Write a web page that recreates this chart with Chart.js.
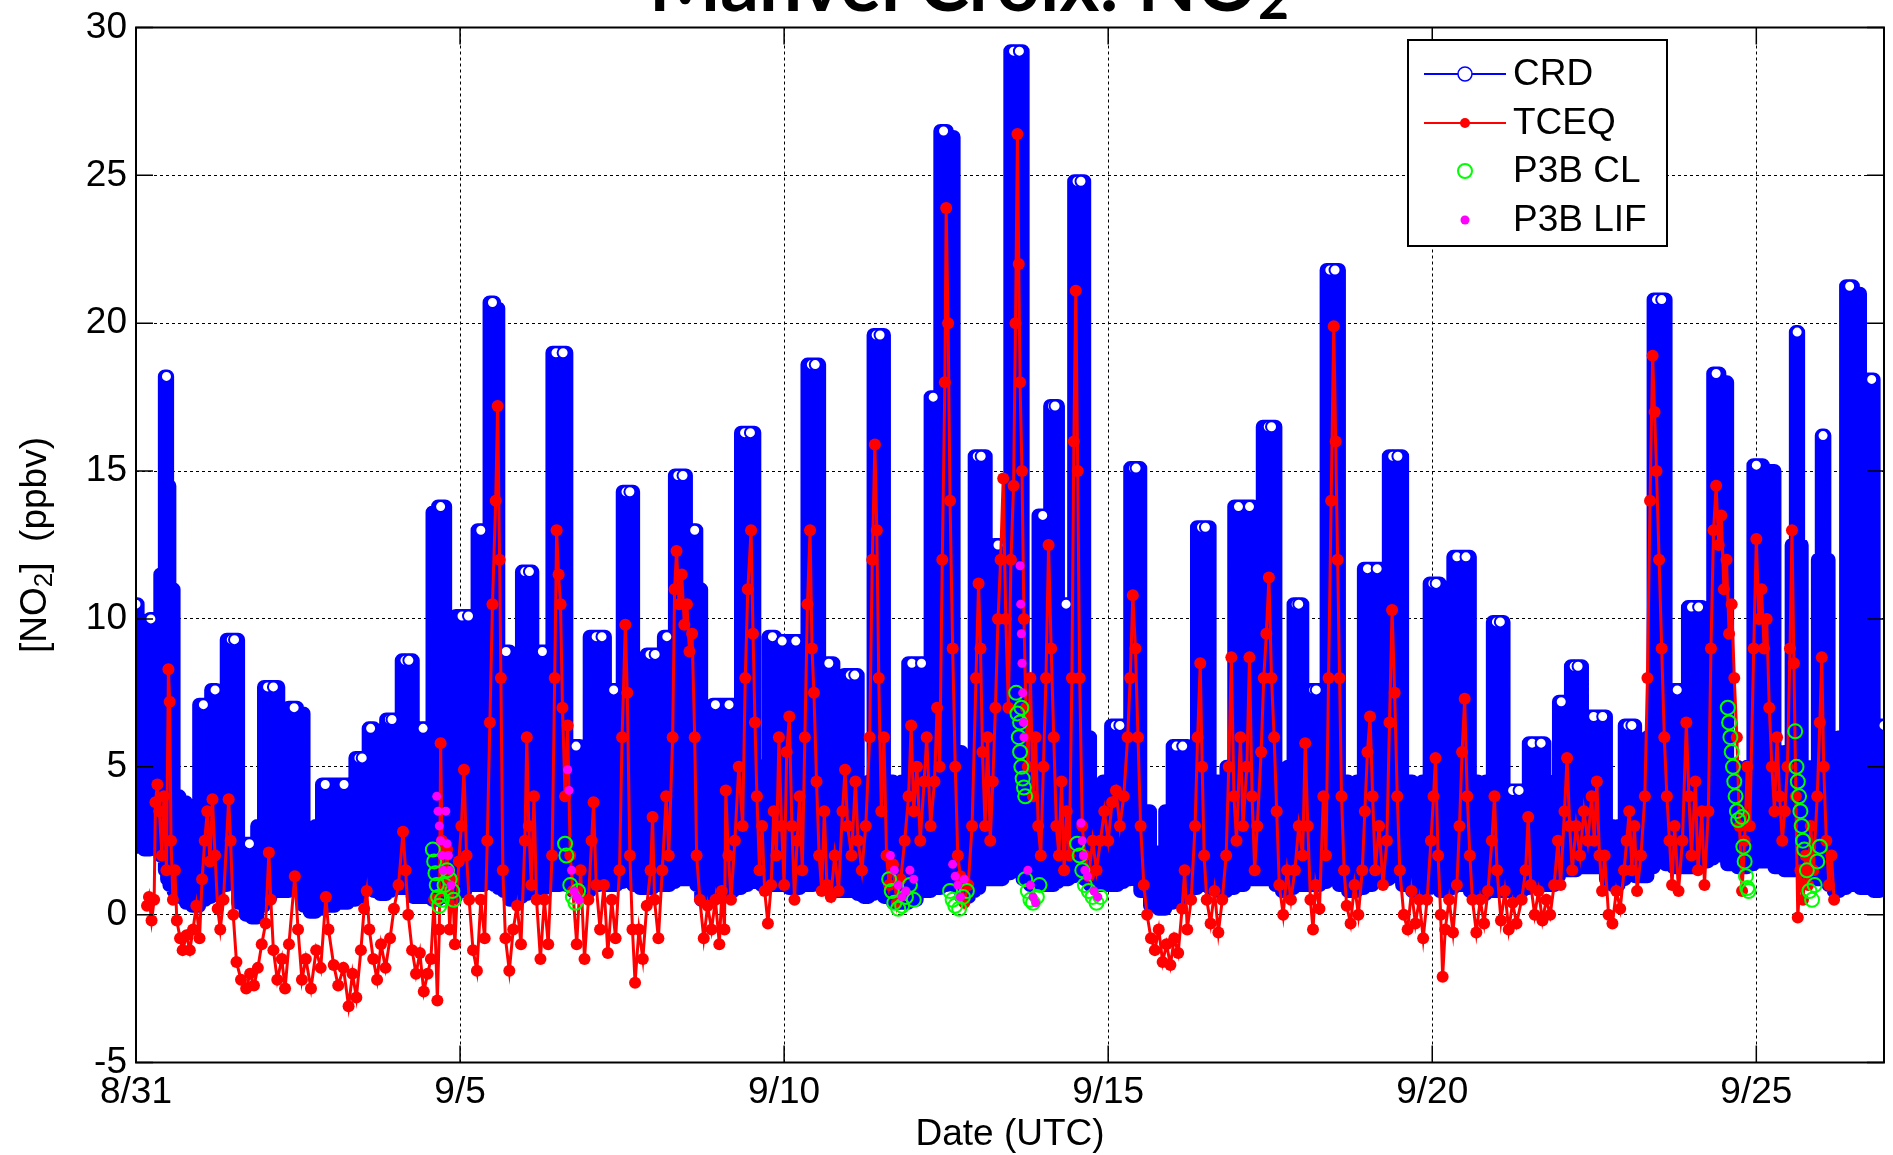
<!DOCTYPE html>
<html><head><meta charset="utf-8">
<script src="https://cdn.jsdelivr.net/npm/chart.js"></script>
<style>html,body{margin:0;padding:0;background:#fff;overflow:hidden}canvas{display:block}</style>
</head><body>
<canvas id="c" width="1893" height="1155"></canvas>
<script>
// ---------- DATA (x = days since 8/31 00:00 UTC, y = NO2 ppbv) ----------
const X_TICKS = [0, 5, 10, 15, 20, 25];
const X_TICK_LABELS = ['8/31', '9/5', '9/10', '9/15', '9/20', '9/25'];
const Y_TICKS = [-5, 0, 5, 10, 15, 20, 25, 30];
const SERIES_LABELS = ['CRD', 'TCEQ', 'P3B CL', 'P3B LIF'];
const TITLE_MAIN = 'Manvel Croix: NO';
const TITLE_SUB = '2';
const X_TITLE = 'Date (UTC)';

// CRD envelope (centres of the stacked circles): [day, upper, lower]
const CRD_WEEK1 = [
 [0.00,10.5,2.4],[0.05,9.6,2.3],[0.20,9.8,2.2],[0.23,10.0,2.5],[0.33,7.0,2.4],[0.42,11.5,2.0],[0.47,18.2,1.5],
 [0.49,14.5,1.2],[0.54,11.0,1.0],[0.62,4.0,0.8],[0.72,3.8,0.6],[0.82,3.6,0.4],[0.91,2.6,0.3],[1.04,7.1,0.5],
 [1.10,5.0,0.6],[1.22,7.6,0.8],[1.26,7.4,1.0],[1.33,3.5,1.0],[1.47,9.3,1.2],[1.52,9.3,1.3],[1.63,2.4,0.4],
 [1.75,2.4,0.0],[1.82,2.2,-0.1],[1.92,3.0,0.3],[2.03,7.7,0.6],[2.12,7.7,0.8],[2.27,3.5,0.8],[2.44,7.0,1.0],
 [2.53,6.8,1.0],[2.64,2.2,0.3],[2.72,2.1,0.1],[2.82,3.0,0.2],[2.92,4.4,0.3],[3.21,4.4,0.4],[3.33,3.5,0.5],
 [3.44,5.3,0.6],[3.49,5.3,0.8],[3.56,4.5,0.9],[3.62,6.3,0.9],[3.72,4.1,0.8],[3.81,4.0,0.7],[3.91,6.6,0.8],
 [3.95,6.6,0.9],[4.05,4.5,0.9],[4.15,8.6,0.9],[4.21,8.6,1.0],[4.33,4.0,0.6],[4.43,6.3,0.6],[4.53,4.5,0.6],
 [4.62,13.6,0.5],[4.70,13.8,0.6],[4.84,4.0,0.6],[5.03,10.1,0.8],[5.13,10.1,1.0],[5.22,5.5,1.0],[5.32,13.0,1.0],
 [5.41,6.0,1.1],[5.50,20.7,1.1],[5.55,20.5,1.0],[5.63,6.5,0.9],[5.71,8.9,0.8],[5.82,4.2,0.5],[5.91,4.5,0.6],
 [6.00,11.6,0.7],[6.07,11.6,0.9],[6.16,5.5,0.9],[6.27,8.9,0.9],[6.37,5.5,1.0],[6.48,19.0,1.0],[6.59,19.0,1.2],
 [6.69,5.0,1.0],[6.79,5.7,0.8],[6.90,4.5,0.8],[7.10,9.4,1.0],[7.19,9.4,1.2],[7.28,5.0,1.0],[7.37,7.6,1.0],
 [7.46,5.0,1.1],[7.56,14.3,1.2],[7.62,14.3,1.3],[7.72,4.5,1.0],[7.83,4.5,0.9],[7.93,8.8,0.9],[8.01,8.8,1.0],
 [8.10,5.0,1.0],[8.19,9.4,1.0],[8.27,6.5,1.1],[8.36,14.85,1.2],[8.44,14.85,1.2],[8.53,9.0,1.2],[8.62,13.0,1.2],
 [8.67,11.0,1.0],[8.77,3.0,0.5],[8.86,4.0,0.6],[8.94,7.1,0.6]
];
const CRD_WEEK2 = [
 [9.15,7.1,0.8],[9.28,4.5,0.9],[9.39,16.3,1.0],[9.48,16.3,1.2],[9.60,5.0,1.1],[9.70,4.5,1.0],[9.82,9.4,1.0],
 [9.90,7.0,1.0],[9.97,9.25,1.0],[10.18,9.25,0.9],[10.30,5.5,1.0],[10.42,18.6,1.0],[10.48,18.6,1.2],[10.60,6.0,1.1],
 [10.69,8.5,1.0],[10.83,4.9,0.8],[11.02,8.1,0.8],[11.09,8.1,0.8],[11.18,4.0,0.7],[11.27,3.1,0.6],[11.34,4.5,0.7],
 [11.42,19.6,0.8],[11.48,19.6,0.8],[11.60,4.5,0.6],[11.76,4.0,0.4],[11.86,4.5,0.4],[11.97,8.5,0.5],[12.12,8.5,0.8],
 [12.22,5.0,0.8],[12.30,17.5,0.9],[12.36,10.0,0.9],[12.46,26.5,1.0],[12.56,26.3,1.2],[12.67,5.5,1.0],[12.80,4.0,0.6],
 [12.90,5.0,0.8],[12.98,15.5,0.9],[13.04,15.5,1.2],[13.18,8.0,1.2],[13.30,12.5,1.2],[13.44,8.0,1.4],[13.54,29.2,1.5],
 [13.63,29.2,1.5],[13.73,6.0,1.2],[13.86,5.5,1.0],[13.99,13.5,1.0],[14.07,10.0,1.0],[14.14,17.2,1.0],[14.18,17.2,1.1],
 [14.27,7.0,1.2],[14.35,10.5,1.2],[14.43,6.5,1.3],[14.52,24.8,1.5],[14.58,24.8,1.5],[14.68,6.0,1.2],[14.76,4.0,1.0],
 [14.86,4.2,1.0],[14.98,4.5,1.0],[15.11,6.4,1.0],[15.18,6.4,1.1],[15.29,4.5,1.2],[15.39,15.1,1.3],[15.43,15.1,1.2],
 [15.56,3.5,0.8],[15.73,2.1,0.3],[15.82,2.1,0.2],[15.94,3.5,0.4],[16.05,5.7,0.5],[16.15,5.7,0.8],[16.30,4.5,0.9],
 [16.44,13.1,1.0],[16.50,13.1,1.0],[16.63,4.5,0.9],[16.77,4.0,0.8],[16.88,5.0,0.9],[17.01,13.8,1.0],[17.18,13.8,1.2],
 [17.30,7.0,1.2],[17.47,16.5,1.2],[17.52,16.5,1.2],[17.64,4.5,1.0],[17.72,4.0,0.8],[17.82,5.0,0.9],[17.90,10.5,1.0],
 [17.94,10.5,1.0]
];
const CRD_WEEK3 = [
 [18.05,5.0,1.0],[18.17,7.6,1.0],[18.21,7.6,1.0],[18.32,6.0,1.1],[18.42,21.8,1.2],[18.50,21.8,1.2],[18.62,4.5,1.0],
 [18.78,4.0,0.8],[18.89,4.5,0.9],[19.00,11.7,1.0],[19.15,11.7,1.2],[19.27,7.0,1.2],[19.39,15.5,1.3],[19.47,15.5,1.3],
 [19.60,4.5,1.0],[19.78,4.0,0.8],[19.91,4.5,0.9],[20.01,11.2,1.0],[20.06,11.2,1.0],[20.17,4.0,0.8],[20.27,4.5,0.9],
 [20.38,12.1,1.0],[20.52,12.1,1.0],[20.64,4.5,0.8],[20.77,4.0,0.7],[20.88,4.5,0.8],[20.99,9.9,0.8],[21.05,9.9,0.8],
 [21.15,3.5,0.8],[21.24,4.2,0.8],[21.34,4.2,0.8],[21.44,4.0,0.9],[21.54,5.8,1.0],[21.68,5.8,1.0],[21.78,3.5,1.0],
 [21.85,3.5,1.0],[21.92,4.5,1.3],[21.99,7.2,1.5],[22.09,5.5,1.5],[22.19,8.4,1.5],[22.25,8.4,1.6],[22.37,5.0,1.6],
 [22.49,6.7,1.6],[22.63,6.7,1.6],[22.73,3.0,1.2],[22.83,2.0,1.0],[22.92,3.0,1.2],[23.02,6.4,1.5],[23.08,6.4,1.5],
 [23.18,3.5,1.3],[23.27,3.5,1.3],[23.37,6.0,1.6],[23.46,20.8,2.0],[23.54,20.8,2.0],[23.66,6.5,1.7],[23.78,7.6,1.6],
 [23.89,5.5,1.6],[24.00,10.4,1.6],[24.11,10.4,1.8],[24.22,5.5,1.8],[24.29,6.0,1.9],[24.38,18.3,2.0],[24.48,18.0,2.0],
 [24.62,5.0,1.7],[24.80,4.5,1.6],[24.91,5.0,1.7],[25.00,15.2,1.8],[25.20,15.0,1.8],[25.36,5.0,1.6],[25.50,5.5,1.5],
 [25.59,12.5,1.5],[25.63,19.7,1.5],[25.66,12.5,1.5],[25.74,5.0,1.4],[25.83,4.0,1.2],[25.91,5.0,1.2],[25.99,12.0,1.2],
 [26.03,16.2,1.2],[26.07,12.0,1.2],[26.16,5.0,1.0],[26.23,4.0,0.8],[26.33,6.0,0.9],[26.44,21.25,1.0],[26.54,21.0,1.0],
 [26.66,10.0,0.9],[26.78,18.1,0.9],[26.84,6.0,0.8],[26.97,6.4,0.9]
];

// TCEQ series: [day, ppbv]
const TCEQ_WEEK1 = [
 [0.17,0.3],[0.20,0.6],[0.24,-0.2],[0.28,0.5],[0.30,3.8],[0.33,4.4],[0.36,3.5],[0.40,2.0],[0.43,4.0],[0.47,1.5],
 [0.50,8.3],[0.52,7.2],[0.54,2.5],[0.57,0.5],[0.60,1.5],[0.63,-0.2],[0.68,-0.8],[0.72,-1.2],[0.78,-0.7],[0.83,-1.2],
 [0.88,-0.5],[0.93,0.3],[0.98,-0.8],[1.02,1.2],[1.06,2.5],[1.10,3.5],[1.14,1.8],[1.18,3.9],[1.22,2.0],[1.26,0.2],
 [1.30,-0.5],[1.35,0.5],[1.43,3.9],[1.46,2.5],[1.50,0.0],[1.55,-1.6],[1.62,-2.2],[1.70,-2.5],[1.76,-2.0],[1.82,-2.4],
 [1.88,-1.8],[1.94,-1.0],[2.00,-0.3],[2.05,2.1],[2.08,0.5],[2.12,-1.2],[2.18,-2.2],[2.25,-1.5],[2.30,-2.5],[2.36,-1.0],
 [2.45,1.3],[2.50,-0.5],[2.56,-2.2],[2.62,-1.5],[2.70,-2.5],[2.78,-1.2],[2.85,-1.8],[2.93,0.6],[2.97,-0.5],[3.05,-1.7],
 [3.12,-2.4],[3.20,-1.8],[3.28,-3.1],[3.34,-2.0],[3.40,-2.8],[3.47,-1.2],[3.52,0.2],[3.56,0.8],[3.60,-0.5],[3.66,-1.5],
 [3.72,-2.2],[3.78,-1.0],[3.85,-1.8],[3.92,-0.8],[3.98,0.2],[4.05,1.0],[4.12,2.8],[4.16,1.5],[4.20,0.0],[4.26,-1.2],
 [4.32,-2.0],[4.38,-1.3],[4.44,-2.6],[4.50,-2.0],[4.55,-1.5],[4.60,0.5],[4.65,-2.9],[4.68,-0.5],[4.70,5.8],[4.72,2.5],
 [4.76,0.8],[4.80,2.2],[4.84,-0.5],[4.88,1.2],[4.92,-1.0],[4.98,1.8],[5.02,3.0],[5.06,4.9],[5.10,2.0],[5.14,0.5],
 [5.20,-1.2],[5.26,-1.9],[5.32,0.5],[5.38,-0.8],[5.42,2.5],[5.46,6.5],[5.50,10.5],[5.55,14.0],[5.58,17.2],[5.61,12.0],
 [5.63,8.0],[5.66,1.5],[5.70,-0.8],[5.76,-1.9],[5.82,-0.5],[5.88,0.3],[5.94,-1.0],[6.00,2.5],[6.03,6.0],[6.06,3.0],
 [6.10,1.0],[6.14,4.0],[6.18,0.5],[6.24,-1.5],[6.30,0.5],[6.36,-1.0],[6.42,2.0],[6.46,8.0],[6.49,13.0],[6.52,11.5],
 [6.55,10.5],[6.58,7.0],[6.62,4.0],[6.66,6.4],[6.70,2.0],[6.74,0.8],[6.80,-1.0],[6.86,1.5],[6.92,-1.5],[6.98,0.5],
 [7.03,2.5],[7.06,3.8],[7.10,1.0],[7.16,-0.5],[7.22,1.0],[7.28,-1.3],[7.34,0.5],[7.40,-0.8],[7.46,1.5],[7.50,6.0],
 [7.55,9.8],[7.58,7.5],[7.62,2.0],[7.66,-0.5],[7.70,-2.3],[7.76,-0.5],[7.82,-1.5],[7.88,0.3],[7.94,1.5],[7.97,3.3],
 [8.00,0.5],[8.06,-0.8],[8.12,1.5],[8.18,4.0],[8.22,2.0],[8.28,6.0],[8.31,11.0],[8.34,12.3],[8.38,10.5],[8.42,11.5],
 [8.46,9.8],[8.50,10.5],[8.54,8.9],[8.58,9.5],[8.62,6.0],[8.65,2.0],[8.70,0.5],[8.76,-0.8],[8.82,0.3],[8.88,-0.5],
 [8.94,0.5],[9.00,-1.0]
];
const TCEQ_WEEK2 = [
 [9.04,0.8],[9.08,-0.5],[9.10,4.2],[9.14,2.0],[9.18,0.5],[9.24,2.5],[9.30,5.0],[9.36,3.0],[9.40,8.0],[9.44,11.0],
 [9.49,13.0],[9.52,9.5],[9.55,6.5],[9.58,4.0],[9.62,1.5],[9.66,3.0],[9.70,0.8],[9.75,-0.3],[9.80,1.0],[9.84,3.5],
 [9.88,2.0],[9.92,6.0],[9.96,3.0],[10.00,1.0],[10.04,5.5],[10.08,6.7],[10.12,3.0],[10.16,0.5],[10.20,2.5],[10.24,4.0],
 [10.28,1.5],[10.32,6.0],[10.36,10.5],[10.40,13.0],[10.43,9.0],[10.46,7.5],[10.50,4.5],[10.54,2.0],[10.58,0.8],[10.62,3.5],
 [10.66,1.0],[10.72,0.6],[10.78,2.0],[10.84,0.8],[10.90,3.5],[10.94,4.9],[10.98,3.0],[11.04,2.0],[11.10,4.5],[11.14,2.5],
 [11.20,1.5],[11.26,3.0],[11.32,6.0],[11.36,12.0],[11.40,15.9],[11.43,13.0],[11.46,8.0],[11.50,3.5],[11.54,6.0],[11.58,2.0],
 [11.62,1.0],[11.68,1.7],[11.74,0.4],[11.80,1.2],[11.86,2.5],[11.92,4.0],[11.96,6.4],[12.00,3.5],[12.05,5.0],[12.10,2.5],
 [12.16,4.5],[12.20,6.0],[12.26,3.0],[12.32,4.5],[12.36,7.0],[12.40,5.0],[12.44,12.0],[12.48,18.0],[12.50,23.9],[12.53,20.0],
 [12.56,14.0],[12.60,9.0],[12.64,5.0],[12.68,2.0],[12.72,1.3],[12.78,0.4],[12.84,1.0],[12.90,3.0],[12.96,8.0],[13.00,11.2],
 [13.03,9.0],[13.06,5.5],[13.10,3.0],[13.14,6.0],[13.18,2.5],[13.22,4.5],[13.26,7.0],[13.30,10.0],[13.34,12.0],[13.38,14.75],
 [13.42,10.0],[13.46,7.0],[13.50,12.0],[13.54,14.5],[13.57,20.0],[13.60,26.4],[13.62,22.0],[13.64,18.0],[13.67,15.0],[13.70,10.0],
 [13.73,7.0],[13.76,5.0],[13.80,8.0],[13.84,4.0],[13.88,6.0],[13.92,3.0],[13.96,2.0],[14.00,5.0],[14.04,8.0],[14.08,12.5],
 [14.12,9.0],[14.16,6.0],[14.20,3.0],[14.24,2.0],[14.28,4.5],[14.32,1.5],[14.36,3.5],[14.40,2.0],[14.44,8.0],[14.47,16.0],
 [14.50,21.1],[14.53,15.0],[14.56,8.0],[14.60,3.0],[14.64,2.0],[14.70,1.3],[14.76,2.5],[14.82,1.5],[14.88,2.5],[14.94,3.5],
 [15.00,2.5],[15.06,3.8],[15.12,4.2],[15.18,3.0],[15.24,4.0],[15.30,6.0],[15.34,8.0],[15.38,10.8],[15.42,9.0],[15.46,6.0],
 [15.50,3.0],[15.55,1.0],[15.60,0.0],[15.66,-0.8],[15.72,-1.2],[15.78,-0.5],[15.84,-1.6],[15.90,-1.0],[15.96,-1.7],[16.02,-0.8],
 [16.08,-1.3],[16.14,0.2],[16.18,1.5],[16.22,-0.5],[16.28,0.5],[16.34,3.0],[16.38,6.0],[16.42,8.5],[16.45,5.0],[16.48,2.0],
 [16.52,0.5],[16.58,-0.3],[16.64,0.8],[16.70,-0.6],[16.76,0.5],[16.82,2.0],[16.86,5.0],[16.90,8.7],[16.94,4.0],[16.98,2.5],
 [17.04,6.0],[17.08,3.0],[17.14,5.0],[17.18,8.7],[17.22,4.0],[17.26,1.5],[17.30,3.0],[17.36,5.5],[17.40,8.0],[17.44,9.5],
 [17.48,11.4],[17.52,8.0],[17.56,6.0],[17.60,3.5],[17.64,1.0],[17.70,0.0],[17.76,1.5],[17.82,0.5],[17.88,1.5],[17.94,3.0],
 [18.00,2.0]
];
const TCEQ_WEEK3 = [
 [18.04,5.8],[18.08,3.0],[18.12,0.5],[18.16,-0.5],[18.20,1.0],[18.26,0.2],[18.32,4.0],[18.36,2.0],[18.40,8.0],[18.44,14.0],
 [18.48,19.9],[18.51,16.0],[18.54,12.0],[18.57,8.0],[18.60,4.0],[18.64,1.5],[18.68,0.3],[18.74,-0.3],[18.80,1.0],[18.86,0.0],
 [18.92,1.5],[18.96,3.5],[19.00,5.5],[19.04,6.7],[19.08,4.0],[19.12,1.5],[19.18,3.0],[19.24,1.0],[19.30,2.5],[19.34,6.5],
 [19.38,10.3],[19.42,7.5],[19.46,4.0],[19.50,1.5],[19.56,0.0],[19.62,-0.5],[19.68,0.8],[19.74,-0.3],[19.80,0.5],[19.86,-0.8],
 [19.92,0.5],[19.98,2.5],[20.02,4.0],[20.05,5.3],[20.09,2.0],[20.13,0.0],[20.16,-2.1],[20.20,-0.5],[20.26,0.5],[20.32,-0.6],
 [20.38,1.0],[20.42,3.0],[20.46,5.5],[20.50,7.3],[20.54,4.0],[20.58,2.0],[20.62,0.5],[20.68,-0.6],[20.74,0.5],[20.80,-0.3],
 [20.86,0.8],[20.92,2.5],[20.96,4.0],[21.00,1.5],[21.06,-0.2],[21.12,0.8],[21.18,-0.5],[21.24,0.4],[21.30,-0.3],[21.38,0.5],
 [21.44,1.5],[21.48,3.3],[21.52,1.0],[21.58,0.0],[21.64,0.8],[21.70,-0.2],[21.76,0.5],[21.82,0.0],[21.88,1.0],[21.94,2.5],
 [21.98,1.0],[22.04,3.5],[22.08,5.3],[22.12,3.0],[22.16,1.5],[22.22,3.0],[22.28,2.0],[22.34,3.5],[22.40,2.5],[22.46,4.0],
 [22.50,2.5],[22.54,4.5],[22.58,2.0],[22.62,0.8],[22.66,2.0],[22.72,0.0],[22.78,-0.3],[22.84,0.8],[22.90,0.2],[22.96,1.5],
 [23.00,2.5],[23.04,3.5],[23.08,1.5],[23.12,3.0],[23.16,0.8],[23.22,2.0],[23.28,4.0],[23.32,8.0],[23.36,14.0],[23.40,18.9],
 [23.43,17.0],[23.46,15.0],[23.50,12.0],[23.54,9.0],[23.58,6.0],[23.62,4.0],[23.66,2.5],[23.70,1.0],[23.74,3.0],[23.80,0.8],
 [23.86,2.5],[23.92,6.5],[23.96,4.0],[24.00,2.0],[24.06,4.5],[24.10,1.5],[24.16,3.5],[24.20,1.0],[24.26,3.5],[24.30,9.0],
 [24.34,13.0],[24.38,14.5],[24.42,12.5],[24.46,13.5],[24.50,11.0],[24.54,12.0],[24.58,9.5],[24.62,10.5],[24.66,8.0],[24.70,6.0],
 [24.74,3.0],[24.78,0.8],[24.82,2.5],[24.86,5.0],[24.90,3.0],[24.96,9.0],[25.00,12.7],[25.04,10.0],[25.08,11.0],[25.12,9.0],
 [25.16,10.0],[25.20,7.0],[25.24,5.0],[25.28,3.5],[25.32,6.0],[25.36,4.0],[25.40,2.5],[25.44,3.5],[25.48,5.0],[25.52,9.0],
 [25.55,13.0],[25.58,8.5],[25.61,4.0],[25.64,-0.1],[25.68,1.5],[25.72,0.5],[25.76,2.0],[25.80,1.0],[25.84,3.0],[25.88,1.5],
 [25.94,4.0],[25.98,6.5],[26.01,8.7],[26.04,5.0],[26.08,2.5],[26.12,1.0],[26.16,2.0],[26.20,0.5]
];

// Aircraft overpasses: [day, ppbv]
const P3B_CL = [
 [4.58,2.2],[4.60,1.8],[4.62,1.4],[4.64,1.0],[4.66,0.6],[4.68,0.3],[4.72,0.5],[4.76,1.0],[4.80,1.5],[4.84,1.2],[4.88,0.8],[4.90,0.5],
 [6.62,2.4],[6.64,2.0],[6.70,1.0],[6.74,0.6],[6.78,0.4],[6.82,0.8],
 [11.62,1.2],[11.66,0.8],[11.70,0.4],[11.76,0.2],[11.82,0.3],[11.88,0.6],[11.94,1.0],[12.00,0.5],
 [12.56,0.8],[12.60,0.5],[12.64,0.3],[12.70,0.2],[12.76,0.6],[12.82,0.8],
 [13.58,7.5],[13.60,6.8],[13.62,6.0],[13.64,5.5],[13.66,5.0],[13.68,4.6],[13.70,4.3],[13.72,4.0],[13.64,6.5],[13.66,7.0],
 [13.72,1.2],[13.76,0.8],[13.80,0.5],[13.84,0.4],[13.90,0.6],[13.94,1.0],
 [14.52,2.4],[14.56,2.0],[14.60,1.5],[14.64,1.0],[14.70,0.8],[14.76,0.6],[14.82,0.4],[14.88,0.6],
 [24.56,7.0],[24.58,6.5],[24.60,6.0],[24.62,5.5],[24.64,5.0],[24.66,4.5],[24.68,4.0],[24.70,3.5],[24.72,3.2],[24.78,3.3],
 [24.80,2.3],[24.82,1.8],[24.84,1.3],[24.86,0.9],[24.88,0.8],
 [25.60,6.2],[25.62,5.0],[25.64,4.5],[25.66,4.0],[25.68,3.5],[25.70,3.0],[25.72,2.5],[25.74,2.2],[25.78,1.5],[25.82,0.8],
 [25.86,0.5],[25.90,1.0],[25.94,1.8],[25.98,2.3]
];
const P3B_LIF = [
 [4.64,4.0],[4.66,3.5],[4.68,3.0],[4.70,2.5],[4.72,2.0],[4.74,1.5],[4.78,3.5],[4.80,2.4],[4.82,2.0],[4.84,1.5],[4.86,1.0],
 [6.66,4.9],[6.68,4.2],[6.72,1.5],[6.76,0.8],[6.80,0.6],[6.84,0.5],
 [11.64,2.0],[11.70,1.5],[11.76,1.0],[11.82,0.6],[11.88,0.8],[11.94,1.5],[12.00,1.2],
 [12.60,1.7],[12.64,1.3],[12.68,1.0],[12.72,0.6],[12.78,1.2],
 [13.64,11.8],[13.65,10.5],[13.66,9.5],[13.67,8.5],[13.68,7.5],[13.69,6.5],[13.70,6.0],[13.76,1.5],[13.80,1.0],[13.84,0.6],[13.88,0.4],
 [14.58,3.1],[14.60,2.5],[14.62,2.0],[14.64,1.5],[14.68,1.3],[14.78,0.8],[14.84,0.6]
];

// ---------- CHART ----------
const FONT = 'Liberation Sans, Arial, sans-serif';
const crdRows = [...CRD_WEEK1, ...CRD_WEEK2, ...CRD_WEEK3];
const tceqRows = [...TCEQ_WEEK1, ...TCEQ_WEEK2, ...TCEQ_WEEK3];
const pts = rows => rows.map(r => ({x: r[0], y: r[1]}));
// ring marker only on the top circle of each CRD stack
const crdTopRadius = c => {
  const i = c.dataIndex, v = crdRows[i][1];
  const p = i > 0 ? crdRows[i - 1][1] : -Infinity, n = i < crdRows.length - 1 ? crdRows[i + 1][1] : -Infinity;
  return (v >= p && v >= n) ? 5.5 : 0;
};

const datasets = [
  {label: SERIES_LABELS[3], data: pts(P3B_LIF), showLine: false, pointRadius: 4.5,
   pointBackgroundColor: '#ff00ff', pointBorderColor: '#ff00ff', pointBorderWidth: 0, borderColor: '#ff00ff', order: 0},
  {label: SERIES_LABELS[2], data: pts(P3B_CL), showLine: false, pointRadius: 7,
   pointBackgroundColor: 'rgba(0,0,0,0)', pointBorderColor: '#00ff00', pointBorderWidth: 2, borderColor: '#00ff00', order: 1},
  {label: SERIES_LABELS[1], data: pts(tceqRows), borderColor: '#ff0000', borderWidth: 3, pointRadius: 6,
   pointBackgroundColor: '#ff0000', pointBorderColor: '#ff0000', pointBorderWidth: 0, fill: false, order: 2},
  {label: SERIES_LABELS[0], data: crdRows.map(r => ({x: r[0], y: r[1]})), borderColor: '#0000ff', backgroundColor: '#0000ff',
   borderWidth: 14, borderJoinStyle: 'round', borderCapStyle: 'round', fill: '+1', stepped: 'middle',
   pointRadius: crdTopRadius, pointBorderColor: '#0000ff', pointBackgroundColor: '#ffffff', pointBorderWidth: 2, order: 3},
  {label: SERIES_LABELS[0] + ' low', data: crdRows.map(r => ({x: r[0], y: r[2]})), borderColor: '#0000ff', backgroundColor: '#0000ff',
   borderWidth: 14, borderJoinStyle: 'round', borderCapStyle: 'round', fill: false, stepped: 'middle', pointRadius: 0, order: 4}
];

function drawSubText(ctx, parts, x, y, align) {
  let w = 0;
  parts.forEach(p => { ctx.font = p.font; w += ctx.measureText(p.t).width; });
  let cx = align === 'center' ? x - w / 2 : x;
  parts.forEach(p => { ctx.font = p.font; ctx.fillText(p.t, cx, y + (p.dy || 0)); cx += ctx.measureText(p.t).width; });
}

const decor = {
  id: 'decor',
  afterDatasetsDraw(chart) {
    const {ctx, chartArea: a, scales: {x, y}} = chart;
    ctx.save();
    ctx.strokeStyle = '#000';
    ctx.lineWidth = 2;
    ctx.strokeRect(a.left, a.top, a.right - a.left, a.bottom - a.top);
    ctx.lineWidth = 1.5;
    const L = 17;
    ctx.beginPath();
    X_TICKS.forEach(v => { const px = x.getPixelForValue(v);
      ctx.moveTo(px, a.bottom); ctx.lineTo(px, a.bottom - L); ctx.moveTo(px, a.top); ctx.lineTo(px, a.top + L); });
    Y_TICKS.forEach(v => { const py = y.getPixelForValue(v);
      ctx.moveTo(a.left, py); ctx.lineTo(a.left + L, py); ctx.moveTo(a.right, py); ctx.lineTo(a.right - L, py); });
    ctx.stroke();
    ctx.restore();
  },
  afterDraw(chart) {
    const {ctx, chartArea: a} = chart;
    ctx.save();
    ctx.fillStyle = '#000';
    ctx.textBaseline = 'alphabetic';
    let tf = 64;
    ctx.font = `bold ${tf}px Lato, sans-serif`;
    let w0 = ctx.measureText(TITLE_MAIN).width;
    ctx.font = `bold ${tf * 0.7}px Lato, sans-serif`;
    w0 += ctx.measureText(TITLE_SUB).width;
    tf = tf * 640 / w0;
    drawSubText(ctx, [{t: TITLE_MAIN, font: `bold ${tf}px Lato, sans-serif`},
                      {t: TITLE_SUB, font: `bold ${tf * 0.7}px Lato, sans-serif`, dy: 8}], 969, 11, 'center');
    ctx.font = `37px ${FONT}`;
    ctx.textAlign = 'center';
    ctx.textBaseline = 'middle';
    ctx.fillText(X_TITLE, (a.left + a.right) / 2, 1135);
    ctx.save();
    ctx.translate(36, (a.top + a.bottom) / 2);
    ctx.rotate(-Math.PI / 2);
    ctx.textAlign = 'left';
    ctx.textBaseline = 'middle';
    drawSubText(ctx, [{t: '[NO', font: `37px ${FONT}`}, {t: '2', font: `26px ${FONT}`, dy: 9},
                      {t: ']  (ppbv)', font: `37px ${FONT}`}], 0, 0, 'center');
    ctx.restore();
    // legend
    const bx = 1408, by = 40, bw = 259, bh = 206;
    ctx.fillStyle = '#fff';
    ctx.fillRect(bx, by, bw, bh);
    ctx.strokeStyle = '#000';
    ctx.lineWidth = 2;
    ctx.strokeRect(bx, by, bw, bh);
    const rows = [74, 123, 171, 220];
    const styles = [
      {line: '#0000ff', r: 7, stroke: '#0000ff', fill: '#fff', lw: 1.5},
      {line: '#ff0000', r: 5, stroke: null, fill: '#ff0000'},
      {line: null, r: 7, stroke: '#00ff00', fill: null, lw: 2},
      {line: null, r: 4.5, stroke: null, fill: '#ff00ff'}
    ];
    SERIES_LABELS.forEach((lab, i) => {
      const yy = rows[i], s = styles[i];
      if (s.line) { ctx.strokeStyle = s.line; ctx.lineWidth = 2; ctx.beginPath(); ctx.moveTo(1424, yy); ctx.lineTo(1506, yy); ctx.stroke(); }
      ctx.beginPath(); ctx.arc(1465, yy, s.r, 0, Math.PI * 2);
      if (s.fill) { ctx.fillStyle = s.fill; ctx.fill(); }
      if (s.stroke) { ctx.strokeStyle = s.stroke; ctx.lineWidth = s.lw; ctx.stroke(); }
      ctx.fillStyle = '#000';
      ctx.font = `37px ${FONT}`;
      ctx.textAlign = 'left';
      ctx.textBaseline = 'middle';
      ctx.fillText(lab, 1513, yy + 1);
    });
    ctx.restore();
  }
};

new Chart(document.getElementById('c').getContext('2d'), {
  type: 'line',
  data: {datasets},
  options: {
    responsive: false, animation: false, devicePixelRatio: 1,
    layout: {padding: {top: 20.5, right: 1, left: 0, bottom: 0}},
    plugins: {legend: {display: false}, tooltip: {enabled: false}, title: {display: false}},
    elements: {line: {tension: 0}},
    scales: {
      x: {
        type: 'linear', min: 0, max: 26.97,
        afterBuildTicks: s => { s.ticks = X_TICKS.map(v => ({value: v})); },
        afterFit: s => { s.height = 92.5; },
        ticks: {callback: v => X_TICK_LABELS[X_TICKS.indexOf(v)], font: {family: FONT, size: 37, lineHeight: 1},
                color: '#000', padding: 12, maxRotation: 0, autoSkip: false},
        grid: {color: '#000', lineWidth: 1, drawTicks: false},
        border: {display: false, dash: [3, 3]}
      },
      y: {
        type: 'linear', min: -5, max: 30,
        afterBuildTicks: s => { s.ticks = Y_TICKS.map(v => ({value: v})); },
        afterFit: s => { s.width = 136; },
        ticks: {font: {family: FONT, size: 37, lineHeight: 1}, color: '#000', padding: 9},
        grid: {color: '#000', lineWidth: 1, drawTicks: false},
        border: {display: false, dash: [3, 3]}
      }
    }
  },
  plugins: [decor]
});
</script>
</body></html>
